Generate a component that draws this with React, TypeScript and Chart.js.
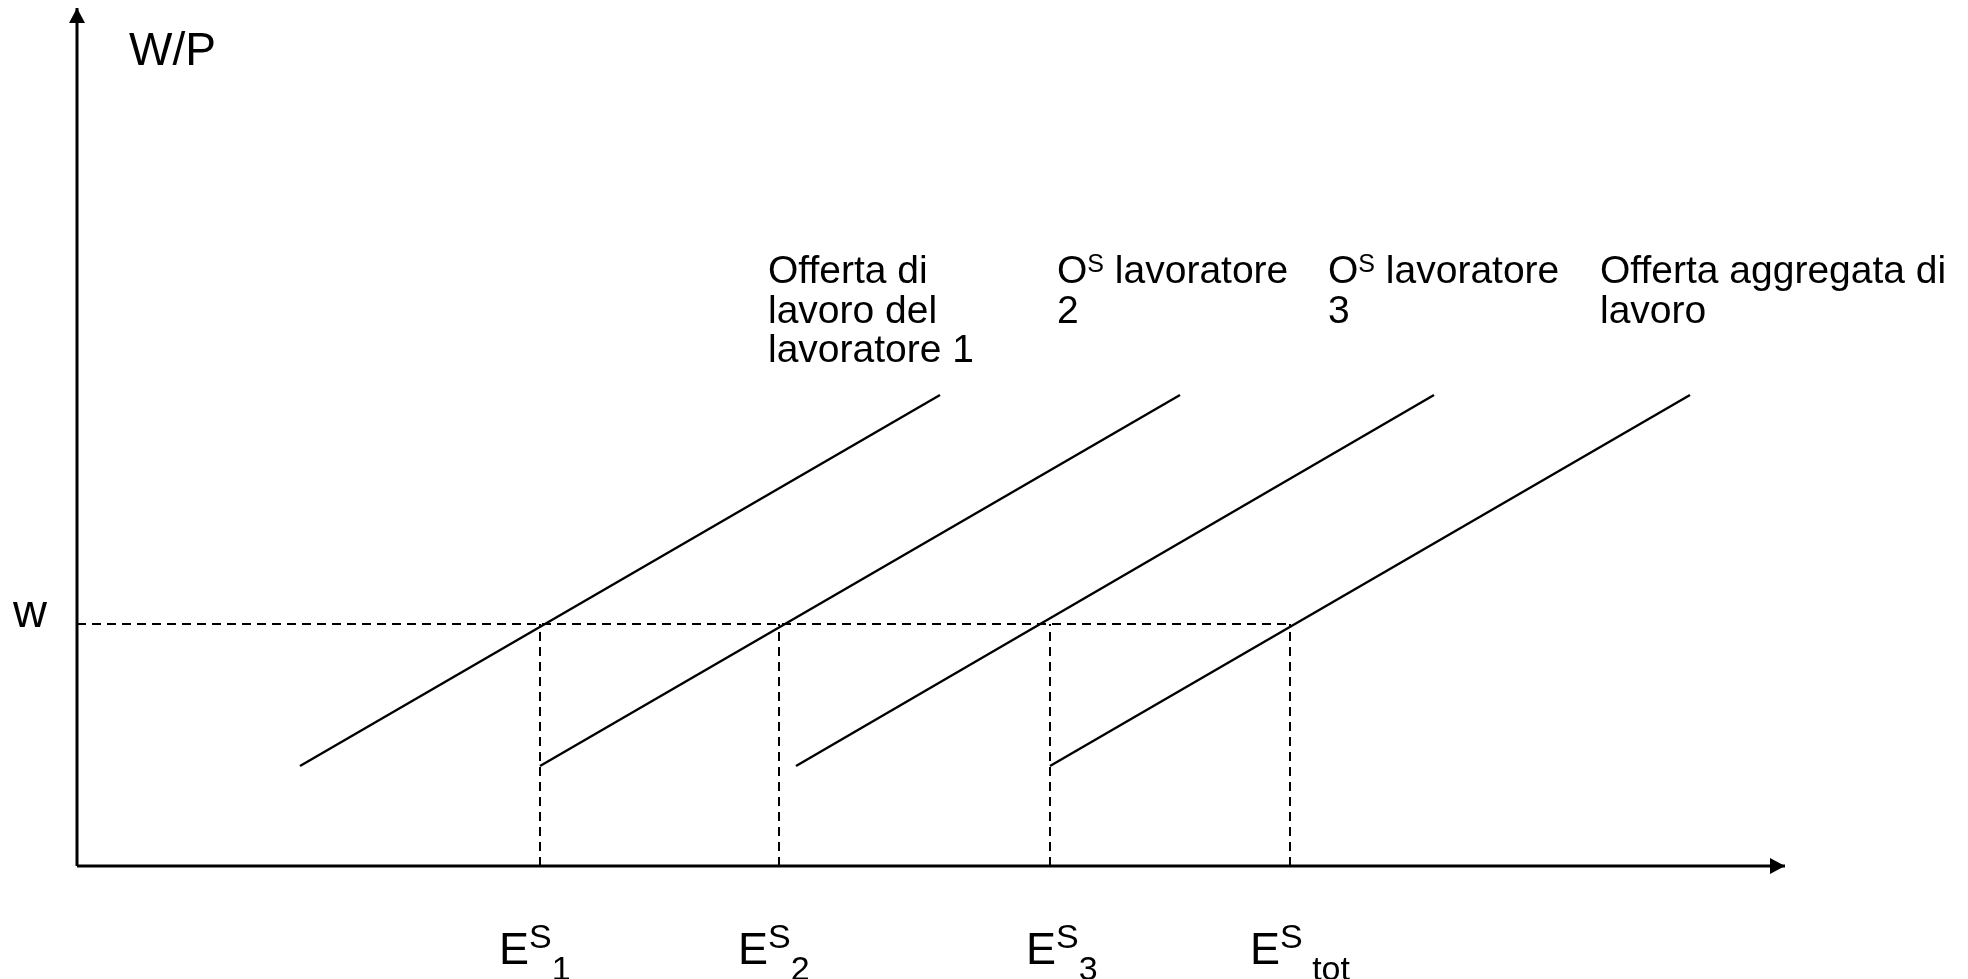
import React, { useEffect, useRef } from "react";
import { Chart, registerables } from "chart.js";

Chart.register(...registerables);

// ---- data (axis units) ----
const AXIS_X_MAX = 1708;
const AXIS_Y_MAX = 858;
const WAGE = 242;
const SUPPLY_LOW = 100;
const SUPPLY_HIGH = 471;
const supplyStart = [223, 463, 719, 973];
const supplyEnd = [863, 1103, 1357, 1613];
const employment = [463, 702, 973, 1213];

// ---- texts ----
const yAxisTitle = "W/P";
const wageLabel = "w";
const curveLabel1 = ["Offerta di", "lavoro del", "lavoratore 1"];
const curveLabel2 = ["O^S lavoratore", "2"];
const curveLabel3 = ["O^S lavoratore", "3"];
const curveLabel4 = ["Offerta aggregata di", "lavoro"];
const curveLabels = [curveLabel1, curveLabel2, curveLabel3, curveLabel4];
const curveLabelX = [691, 980, 1251, 1523];
const empMain = "E";
const empSup = "S";
const empSubs = ["1", "2", "3", " tot"];
const empLabelX = [422, 661, 949, 1173];

const FONT = '"Liberation Sans", Arial, Helvetica, sans-serif';

type Seg = { text: string; size: number; dy: number };

function drawRich(ctx: CanvasRenderingContext2D, x: number, y: number, segs: Seg[]) {
  let cx = x;
  for (const s of segs) {
    ctx.font = `${s.size}px ${FONT}`;
    ctx.fillText(s.text, cx, y + s.dy);
    cx += ctx.measureText(s.text).width;
  }
}

function parseSup(line: string, size: number, supSize: number, supDy: number): Seg[] {
  const parts = line.split(/\^(\S)/);
  const segs: Seg[] = [];
  parts.forEach((p, i) => {
    if (!p) return;
    if (i % 2 === 1) segs.push({ text: p, size: supSize, dy: supDy });
    else segs.push({ text: p, size, dy: 0 });
  });
  return segs;
}

const annotPlugin = {
  id: "annot",
  afterDatasetsDraw(chart: any) {
    const { ctx, scales } = chart;
    const xs = scales.x;
    const ys = scales.y;
    const px = (v: number) => xs.getPixelForValue(v);
    const py = (v: number) => ys.getPixelForValue(v);
    ctx.save();
    ctx.fillStyle = "#000";
    // arrowheads
    const ox = px(0);
    const oy = py(0);
    const ty = py(AXIS_Y_MAX);
    const rx = px(AXIS_X_MAX);
    ctx.beginPath();
    ctx.moveTo(ox, ty);
    ctx.lineTo(ox - 8, ty + 15);
    ctx.lineTo(ox + 8, ty + 15);
    ctx.closePath();
    ctx.fill();
    ctx.beginPath();
    ctx.moveTo(rx, oy);
    ctx.lineTo(rx - 15, oy - 8);
    ctx.lineTo(rx - 15, oy + 8);
    ctx.closePath();
    ctx.fill();

    ctx.textBaseline = "alphabetic";
    ctx.textAlign = "left";
    // axis title
    ctx.font = `46px ${FONT}`;
    ctx.fillText(yAxisTitle, ox + 52, ty + 57);
    // wage label
    ctx.font = `47px ${FONT}`;
    ctx.fillText(wageLabel, ox - 64, py(WAGE) + 3);

    // curve labels
    const top = py(SUPPLY_HIGH) - 112;
    curveLabels.forEach((lines, i) => {
      lines.forEach((ln, j) => {
        drawRich(ctx, px(curveLabelX[i]), top + j * 39.5, parseSup(ln, 39, 25, -11));
      });
    });

    // employment labels
    const eb = oy + 98;
    empSubs.forEach((sub, i) => {
      drawRich(ctx, px(empLabelX[i]), eb, [
        { text: empMain, size: 45, dy: 0 },
        { text: empSup, size: 34, dy: -16 },
        { text: sub, size: 34, dy: 16 },
      ]);
    });
    ctx.restore();
  },
};

export default function App() {
  const ref = useRef<HTMLCanvasElement | null>(null);
  useEffect(() => {
    if (!ref.current) return;
    const black = "#000000";
    const line = (pts: { x: number; y: number }[], width: number, dash: number[] = []) => ({
      data: pts,
      showLine: true,
      borderColor: black,
      backgroundColor: black,
      borderWidth: width,
      borderDash: dash,
      pointRadius: 0,
      clip: false as any,
      borderCapStyle: "butt" as const,
    });
    const datasets: any[] = [];
    // axes
    datasets.push(line([{ x: 0, y: 0 }, { x: AXIS_X_MAX, y: 0 }], 3));
    datasets.push(line([{ x: 0, y: 0 }, { x: 0, y: AXIS_Y_MAX }], 3));
    // wage dashed line
    datasets.push(line([{ x: 0, y: WAGE }, { x: employment[employment.length - 1], y: WAGE }], 2, [9, 6]));
    // employment dashed verticals
    employment.forEach((e) => datasets.push(line([{ x: e, y: 0 }, { x: e, y: WAGE }], 2, [9, 6])));
    // supply curves
    supplyStart.forEach((s, i) =>
      datasets.push(line([{ x: s, y: SUPPLY_LOW }, { x: supplyEnd[i], y: SUPPLY_HIGH }], 2.4))
    );

    const chart = new Chart(ref.current, {
      type: "scatter",
      data: { datasets },
      options: {
        responsive: false,
        animation: false,
        events: [],
        layout: { padding: { left: 77, top: 8, right: 1968 - 1785, bottom: 979 - 866 } },
        scales: {
          x: { type: "linear", min: 0, max: AXIS_X_MAX, display: false },
          y: { type: "linear", min: 0, max: AXIS_Y_MAX, display: false },
        },
        plugins: { legend: { display: false }, tooltip: { enabled: false } },
      },
      plugins: [annotPlugin],
    });
    return () => chart.destroy();
  }, []);
  return (
    <div style={{ position: "fixed", left: 0, top: 0, width: 1968, height: 979, background: "#fff" }}>
      <canvas ref={ref} width={1968} height={979} style={{ display: "block" }} />
    </div>
  );
}
